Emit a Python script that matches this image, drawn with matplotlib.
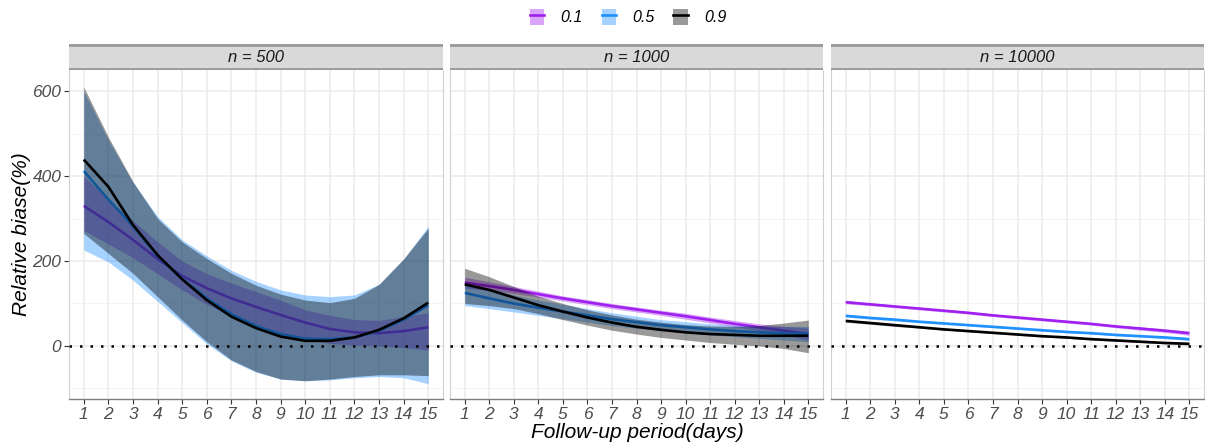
# Relative bias by follow-up period, faceted by sample size
import numpy as np
import matplotlib.pyplot as plt
from matplotlib.patches import Patch, Rectangle
from matplotlib.lines import Line2D
from matplotlib.legend_handler import HandlerTuple

plt.rcParams['font.family'] = ['Liberation Sans', 'DejaVu Sans']

days = np.arange(1, 16)
panels = ['n = 500', 'n = 1000', 'n = 10000']
groups = ['0.1', '0.5', '0.9']
colors = ['#A020F0', '#1E90FF', '#000000']

# n = 500
p500_mid = [330, 292, 250, 205, 165, 136, 112, 92, 73, 55, 40, 32, 30, 35, 44]
p500_lo = [272, 240, 208, 170, 132, 98, 70, 48, 30, 15, 6, 2, 0, -4, -10]
p500_hi = [400, 345, 295, 245, 200, 170, 148, 128, 108, 85, 72, 62, 60, 70, 78]
b500_mid = [412, 345, 282, 212, 158, 112, 75, 47, 28, 17, 16, 20, 36, 62, 96]
b500_lo = [226, 198, 155, 105, 55, 5, -35, -62, -78, -82, -80, -75, -72, -75, -89]
b500_hi = [600, 485, 385, 305, 250, 212, 178, 152, 132, 120, 116, 120, 145, 205, 282]
k500_mid = [439, 375, 285, 214, 157, 108, 69, 42, 22, 12, 12, 20, 38, 65, 102]
k500_lo = [265, 218, 171, 116, 61, 10, -33, -60, -78, -82, -78, -72, -68, -68, -70]
k500_hi = [610, 492, 387, 300, 245, 206, 171, 143, 122, 108, 102, 112, 145, 205, 277]

# n = 1000
p1k_mid = [149, 141, 132, 122, 112, 103, 94, 86, 78, 70, 61, 52, 44, 36, 28]
p1k_lo = [136, 131, 124, 115, 106, 97, 88, 80, 72, 63, 54, 45, 36, 26, 14]
p1k_hi = [162, 151, 140, 129, 118, 109, 100, 92, 84, 77, 68, 60, 52, 46, 42]
b1k_mid = [125, 112, 100, 90, 81, 72, 63, 56, 49, 44, 39, 35, 32, 30, 28]
b1k_lo = [95, 88, 80, 72, 64, 56, 48, 42, 36, 31, 26, 22, 18, 14, 10]
b1k_hi = [145, 136, 120, 108, 98, 88, 78, 70, 62, 57, 52, 48, 46, 46, 46]
k1k_mid = [145, 132, 114, 96, 81, 67, 55, 45, 38, 32, 28, 26, 24, 24, 24]
k1k_lo = [100, 95, 88, 76, 62, 49, 37, 28, 20, 14, 8, 4, 0, -6, -16]
k1k_hi = [183, 163, 140, 117, 100, 85, 73, 63, 56, 50, 47, 46, 48, 54, 61]

# n = 10000
p10k_mid = [103, 98, 93, 88, 83, 78, 72, 67, 62, 57, 52, 46, 41, 36, 30]
p10k_lo = [99, 95, 90, 85, 80, 75, 69, 64, 59, 54, 49, 43, 37, 32, 25]
p10k_hi = [107, 101, 96, 91, 86, 81, 75, 70, 65, 60, 55, 49, 45, 40, 35]
b10k_mid = [71, 66, 62, 57, 53, 49, 45, 41, 37, 33, 30, 26, 23, 20, 16]
b10k_lo = [68, 63, 59, 55, 51, 47, 43, 39, 35, 31, 28, 24, 21, 17, 13]
b10k_hi = [74, 69, 65, 59, 55, 51, 47, 43, 39, 35, 32, 28, 25, 23, 19]
k10k_mid = [59, 54, 49, 44, 39, 35, 31, 27, 23, 20, 16, 13, 10, 7, 5]
k10k_lo = [56, 51, 46, 42, 37, 33, 29, 25, 21, 18, 14, 11, 8, 5, 2]
k10k_hi = [62, 57, 52, 46, 41, 37, 33, 29, 25, 22, 18, 15, 12, 9, 8]

data = [
    [(p500_mid, p500_lo, p500_hi), (b500_mid, b500_lo, b500_hi), (k500_mid, k500_lo, k500_hi)],
    [(p1k_mid, p1k_lo, p1k_hi), (b1k_mid, b1k_lo, b1k_hi), (k1k_mid, k1k_lo, k1k_hi)],
    [(p10k_mid, p10k_lo, p10k_hi), (b10k_mid, b10k_lo, b10k_hi), (k10k_mid, k10k_lo, k10k_hi)],
]

W, H = 1205, 446
fig = plt.figure(figsize=(W / 100, H / 100), dpi=100)

# panel pixel extents (left, right)
lefts = [69, 450, 831]
rights = [443, 823, 1204]
top_px, bot_px, strip_h = 70, 399, 26

tick_col = '#4d4d4d'
for i, name in enumerate(panels):
    l, r = lefts[i], rights[i]
    ax = fig.add_axes([l / W, 1 - bot_px / H, (r - l) / W, (bot_px - top_px) / H])
    ax.set_xlim(0.4, 15.6)
    ax.set_ylim(-125, 650)

    # grid
    for y in [-100, 100, 300, 500]:
        ax.axhline(y, color='#f2f2f2', lw=0.6, zorder=0)
    for y in [0, 200, 400, 600]:
        ax.axhline(y, color='#ebebeb', lw=1.1, zorder=0)
    for x in days:
        ax.axvline(x, color='#ebebeb', lw=1.1, zorder=0)

    for (mid, lo, hi), c in zip(data[i], colors):
        ax.fill_between(days, lo, hi, color=c, alpha=0.4, lw=0, zorder=2)
        ax.plot(days, mid, color=c, lw=1.9, zorder=2, solid_capstyle='butt')

    ax.axhline(0, color='black', lw=1.8, linestyle=(0, (1, 3.2)), zorder=3)

    ax.set_xticks(days)
    ax.set_xticklabels([str(d) for d in days], fontsize=12.5, style='italic', color=tick_col)
    ax.set_yticks([0, 200, 400, 600])
    ax.tick_params(axis='both', color='#333333', width=0.8, length=3.5, pad=2)
    if i == 0:
        ax.set_yticklabels(['0', '200', '400', '600'], fontsize=12.5, style='italic', color=tick_col)
    else:
        ax.set_yticklabels([])
        ax.tick_params(axis='y', length=0)

    for s in ['left', 'right', 'top']:
        ax.spines[s].set_color('#d0d0d0')
        ax.spines[s].set_linewidth(0.8)
    ax.spines['top'].set_visible(False)
    ax.spines['bottom'].set_color('#7f7f7f')
    ax.spines['bottom'].set_linewidth(1.0)

    # facet strip
    sax = fig.add_axes([l / W, 1 - top_px / H, (r - l) / W, strip_h / H])
    sax.set_xlim(0, 1)
    sax.set_ylim(0, 1)
    sax.add_patch(Rectangle((0, 0), 1, 1, facecolor='#d9d9d9', edgecolor='none'))
    sax.axhline(0.03, color='#999999', lw=2)
    sax.axhline(0.97, color='#999999', lw=2)
    sax.set_xticks([])
    sax.set_yticks([])
    for s in sax.spines.values():
        s.set_visible(False)
    sax.text(0.5, 0.48, name, ha='center', va='center', fontsize=12, style='italic', color='#1a1a1a')

fig.text(22 / W, 1 - 234 / H, 'Relative biase(%)', rotation=90, ha='center', va='center',
         fontsize=15, style='italic')
fig.text(637 / W, 1 - 433 / H, 'Follow-up period(days)', ha='center', va='center',
         fontsize=15, style='italic')

handles = []
for c in colors:
    handles.append((Patch(facecolor=c, alpha=0.4, edgecolor='none'), Line2D([], [], color=c, lw=1.9)))
fig.legend(handles, groups, loc='center', bbox_to_anchor=(628 / W, 1 - 17 / H), ncol=3,
           frameon=False, handler_map={tuple: HandlerTuple(ndivide=1, pad=0)},
           handlelength=0.9, handleheight=1.2, handletextpad=1.0, columnspacing=1.2,
           prop={'size': 11.5, 'style': 'italic'})

fig.savefig('out.png', dpi=100, facecolor='white')
